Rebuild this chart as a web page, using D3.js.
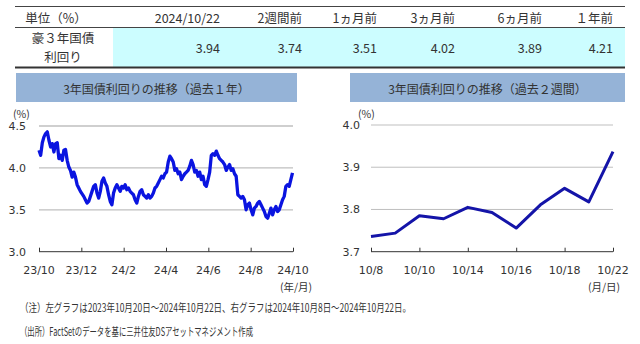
<!DOCTYPE html>
<html><head><meta charset="utf-8">
<script src="https://cdn.jsdelivr.net/npm/d3@7"></script>
<style>
body{margin:0;background:#fff;}
svg{display:block;font-family:"Noto Sans CJK JP","Noto Sans",sans-serif;}
</style></head>
<body><svg id="c" width="640" height="344"></svg>
<script>
// ---- table data ----
const tableHeaders = ["2024/10/22","2週間前","1ヵ月前","3ヵ月前","6ヵ月前","１年前"];
const tableValues = [3.94, 3.74, 3.51, 4.02, 3.89, 4.21];
const tableUnit = "単位（%）";
const tableRowLabel = ["豪３年国債","利回り"];

// ---- left chart (past 1 year) ----
const leftTitle = "3年国債利回りの推移（過去１年）";
const leftTicks = ["23/10","23/12","24/2","24/4","24/6","24/8","24/10"];
const leftYTicks = [3.0, 3.5, 4.0, 4.5];
const leftValues = [4.21,4.15,4.30,4.37,4.41,4.43,4.33,4.25,4.29,4.19,4.29,4.30,4.11,4.15,4.09,4.21,4.22,4.09,4.01,3.97,
3.89,3.95,3.89,3.80,3.76,3.72,3.69,3.66,3.62,3.58,3.60,3.66,3.72,3.78,3.80,3.70,3.64,3.72,3.84,3.88,
3.82,3.78,3.68,3.60,3.56,3.70,3.76,3.80,3.76,3.72,3.78,3.76,3.80,3.74,3.76,3.72,3.70,3.68,3.62,3.58,
3.66,3.72,3.74,3.68,3.66,3.64,3.68,3.64,3.66,3.70,3.76,3.78,3.82,3.86,3.90,3.88,3.93,3.95,4.07,4.14,
4.11,4.07,3.97,3.99,3.93,3.95,3.86,3.90,3.93,3.95,3.97,4.02,4.09,4.04,3.95,3.97,3.90,3.95,3.86,3.90,
3.80,3.78,3.86,3.95,4.15,4.17,4.15,4.20,4.15,4.11,4.09,4.07,4.04,3.97,4.01,4.04,3.97,3.99,3.93,3.90,
3.68,3.66,3.64,3.66,3.62,3.50,3.56,3.58,3.50,3.44,3.52,3.54,3.58,3.60,3.56,3.52,3.48,3.42,3.40,3.46,
3.52,3.44,3.50,3.54,3.48,3.50,3.56,3.62,3.66,3.78,3.80,3.78,3.86,3.94];

// ---- right chart (past 2 weeks) ----
const rightTitle = "3年国債利回りの推移（過去２週間）";
const rightDates = ["10/8","10/9","10/10","10/11","10/14","10/15","10/16","10/17","10/18","10/21","10/22"];
const rightValues = [3.736,3.744,3.785,3.778,3.805,3.793,3.756,3.811,3.850,3.818,3.937];
const rightTickLabels = ["10/8","10/10","10/14","10/16","10/18","10/22"];
const rightYTicks = [3.7, 3.8, 3.9, 4.0];

const notes = ["（注）左グラフは2023年10月20日～2024年10月22日、右グラフは2024年10月8日～2024年10月22日。",
               "（出所）FactSetのデータを基に三井住友DSアセットマネジメント作成"];

const svg = d3.select("#c");
const txt = "#333";

// ---------- table ----------
const tX0 = 15, tX1 = 625;
const colRight = [220, 302, 377, 455, 542, 613];
svg.append("rect").attr("x",113).attr("y",27.5).attr("width",tX1-113).attr("height",39.5).attr("fill","#ccfdff");
svg.append("line").attr("x1",tX0).attr("x2",tX1).attr("y1",6.5).attr("y2",6.5).attr("stroke","#444").attr("stroke-width",1);
svg.append("line").attr("x1",tX0).attr("x2",tX1).attr("y1",27.5).attr("y2",27.5).attr("stroke","#444").attr("stroke-width",1);
svg.append("line").attr("x1",tX0).attr("x2",tX1).attr("y1",67.5).attr("y2",67.5).attr("stroke","#333").attr("stroke-width",2);
svg.append("text").attr("x",56).attr("y",17).attr("text-anchor","middle").attr("dominant-baseline","central")
  .attr("font-size",12.5).attr("fill",txt).text(tableUnit);
svg.selectAll("text.th").data(tableHeaders).enter().append("text").attr("class","th")
  .attr("x",(d,i)=>colRight[i]).attr("y",17).attr("text-anchor","end").attr("dominant-baseline","central")
  .attr("font-size",12.5).attr("fill",txt).text(d=>d);
svg.selectAll("text.tv").data(tableValues).enter().append("text").attr("class","tv")
  .attr("x",(d,i)=>colRight[i]).attr("y",47).attr("text-anchor","end").attr("dominant-baseline","central")
  .attr("font-size",12.5).attr("fill",txt).text(d=>d.toFixed(2));
svg.selectAll("text.rl").data(tableRowLabel).enter().append("text").attr("class","rl")
  .attr("x",63).attr("y",(d,i)=>37.5+i*18.5).attr("text-anchor","middle").attr("dominant-baseline","central")
  .attr("font-size",12.5).attr("fill",txt).text(d=>d);

// ---------- chart helper ----------
function titleBox(x0,x1,title){
  svg.append("rect").attr("x",x0).attr("y",73).attr("width",x1-x0).attr("height",29).attr("fill","#95b3d7");
  svg.append("text").attr("x",(x0+x1)/2).attr("y",88).attr("text-anchor","middle").attr("dominant-baseline","central")
    .attr("font-size",12).attr("fill",txt).text(title);
}

// ---------- left chart ----------
titleBox(16,297,leftTitle);
const lx0 = 39, lx1 = 293;
const ly = d3.scaleLinear().domain([3.0,4.5]).range([251.7,126]);
const lxi = d3.scaleLinear().domain([0,leftValues.length-1]).range([lx0,lx1-0.5]);
const lxt = d3.scalePoint().domain(leftTicks).range([lx0,lx1]);
const gL = svg.append("g");
gL.selectAll("line.grid").data(leftYTicks.slice(1)).enter().append("line")
  .attr("x1",lx0).attr("x2",lx1).attr("y1",d=>ly(d)).attr("y2",d=>ly(d)).attr("stroke","#bfbfbf").attr("stroke-width",1.3);
const yAxL = gL.append("g").attr("transform",`translate(${lx0},0)`)
  .call(d3.axisLeft(ly).tickValues(leftYTicks).tickFormat(d3.format(".1f")).tickSize(0).tickPadding(13));
yAxL.select(".domain").remove();
yAxL.selectAll("text").attr("font-size",11).attr("fill",txt).attr("font-family","'DejaVu Sans',sans-serif");
const xAxL = gL.append("g").attr("transform",`translate(0,${ly(3.0)})`)
  .call(d3.axisTop(lxt).tickSize(4).tickFormat(""));
xAxL.select(".domain").attr("stroke","#333").attr("d",`M${lx0},0H${lx1}`);
xAxL.selectAll(".tick line").attr("stroke","#333");
gL.selectAll("text.xl").data(leftTicks).enter().append("text").attr("class","xl")
  .attr("x",d=>lxt(d)).attr("y",270).attr("text-anchor","middle").attr("dominant-baseline","central")
  .attr("font-size",11).attr("fill",txt).attr("font-family","'DejaVu Sans',sans-serif").text(d=>d);
gL.append("text").attr("x",13).attr("y",113).attr("dominant-baseline","central").attr("font-size",10.5).attr("fill",txt).text("(%)");
gL.append("text").attr("x",296).attr("y",286).attr("text-anchor","middle").attr("dominant-baseline","central").attr("font-size",10.5).attr("fill",txt).text("(年/月)");
gL.append("path").datum(leftValues)
  .attr("d",d3.line().x((d,i)=>lxi(i)).y(d=>ly(d)))
  .attr("fill","none").attr("stroke","#0a14e0").attr("stroke-width",3.3).attr("stroke-linejoin","round");

// ---------- right chart ----------
titleBox(350,625,rightTitle);
const rx0 = 371, rx1 = 613;
const ry = d3.scaleLinear().domain([3.7,4.0]).range([251.7,125]);
const rx = d3.scalePoint().domain(rightDates).range([rx0,rx1]);
const gR = svg.append("g");
gR.selectAll("line.grid").data(rightYTicks.slice(1)).enter().append("line")
  .attr("x1",rx0).attr("x2",rx1).attr("y1",d=>ry(d)).attr("y2",d=>ry(d)).attr("stroke","#bfbfbf").attr("stroke-width",1);
const yAxR = gR.append("g").attr("transform",`translate(${rx0},0)`)
  .call(d3.axisLeft(ry).tickValues(rightYTicks).tickFormat(d3.format(".1f")).tickSize(0).tickPadding(11));
yAxR.select(".domain").remove();
yAxR.selectAll("text").attr("font-size",11).attr("fill",txt).attr("font-family","'DejaVu Sans',sans-serif");
const xAxR = gR.append("g").attr("transform",`translate(0,${ry(3.7)})`)
  .call(d3.axisTop(rx).tickValues(rightTickLabels).tickSize(4).tickFormat(""));
xAxR.select(".domain").attr("stroke","#333").attr("d",`M${rx0},0H${rx1}`);
xAxR.selectAll(".tick line").attr("stroke","#333");
gR.selectAll("text.xl").data(rightTickLabels).enter().append("text").attr("class","xl")
  .attr("x",d=>rx(d)).attr("y",270).attr("text-anchor","middle").attr("dominant-baseline","central")
  .attr("font-size",11).attr("fill",txt).attr("font-family","'DejaVu Sans',sans-serif").text(d=>d);
gR.append("text").attr("x",358).attr("y",113).attr("dominant-baseline","central").attr("font-size",10.5).attr("fill",txt).text("(%)");
gR.append("text").attr("x",604).attr("y",286).attr("text-anchor","middle").attr("dominant-baseline","central").attr("font-size",10.5).attr("fill",txt).text("(月/日)");
gR.append("path").datum(rightValues)
  .attr("d",d3.line().x((d,i)=>rx(rightDates[i])).y(d=>ry(d)))
  .attr("fill","none").attr("stroke","#1414a8").attr("stroke-width",3).attr("stroke-linejoin","round");

// ---------- notes ----------
svg.selectAll("text.note").data(notes).enter().append("text").attr("class","note")
  .attr("x",20).attr("y",(d,i)=>307+i*24).attr("dominant-baseline","central")
  .attr("font-size",11.5).attr("fill",txt)
  .attr("textLength",(d,i)=>i===0?391:233).attr("lengthAdjust","spacingAndGlyphs").text(d=>d);
</script></body></html>
